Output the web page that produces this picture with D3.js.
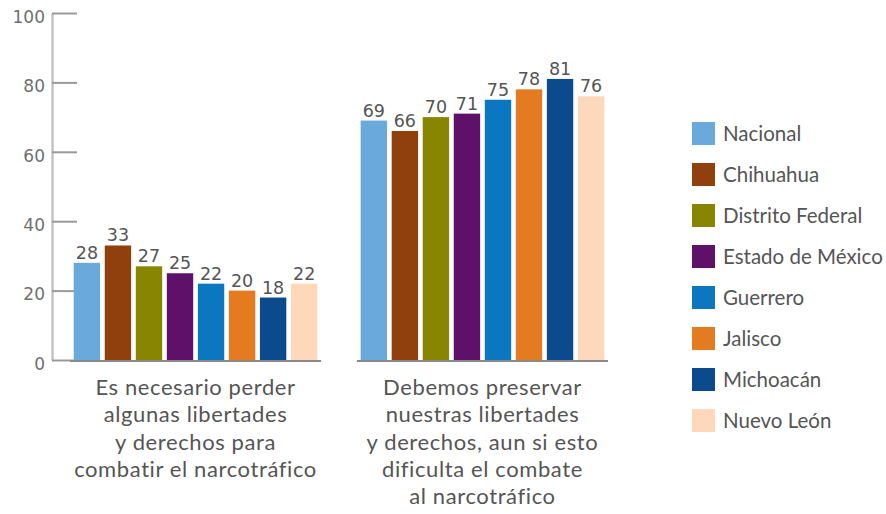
<!DOCTYPE html>
<html>
<head>
<meta charset="utf-8">
<script src="https://cdn.jsdelivr.net/npm/d3@7"></script>
<style>
  html, body { margin: 0; padding: 0; background: #fff; }
  svg { display: block; }
</style>
</head>
<body>
<svg id="chart" width="886" height="514"></svg>
<script>
const groups = ["g1", "g2"];
const groupLabels = [
  ["Es necesario perder", "algunas libertades", "y derechos para", "combatir el narcotráfico"],
  ["Debemos preservar", "nuestras libertades", "y derechos, aun si esto", "dificulta el combate", "al narcotráfico"]
];
const seriesNames = ["Nacional", "Chihuahua", "Distrito Federal", "Estado de México", "Guerrero", "Jalisco", "Michoacán", "Nuevo León"];
const seriesColors = ["#69a9dc", "#8f400c", "#888600", "#5f1068", "#0b77c0", "#e57b21", "#0c4a8e", "#fdd8bb"];
const valuesG1 = [28, 33, 27, 25, 22, 20, 18, 22];
const valuesG2 = [69, 66, 70, 71, 75, 78, 81, 76];
const yTicks = [0, 20, 40, 60, 80, 100];

const svg = d3.select("#chart");
const numFont = "'DejaVu Sans', sans-serif";
const txtFont = "Lato, sans-serif";

const y = d3.scaleLinear().domain([0, 100]).range([360, 13]);
const x0 = d3.scaleBand().domain(groups).range([70, 608]).paddingInner(0.125);
const x1 = d3.scaleBand().domain(seriesNames).range([0, x0.bandwidth()]).paddingInner(0.15).paddingOuter(0.12);

// Y axis
const yAxis = d3.axisLeft(y).tickValues(yTicks).tickSize(-25).tickSizeOuter(0).tickPadding(7);
const ga = svg.append("g").attr("transform", "translate(52,0)").call(yAxis);
ga.select(".domain").attr("stroke", "#c4c4c4").attr("stroke-width", 2.5);
ga.selectAll(".tick line").attr("stroke", "#9a9a9a").attr("stroke-width", 2);
ga.selectAll(".tick text").attr("fill", "#707070").attr("font-family", numFont).attr("font-size", 17)
  .attr("dy", "0.55em");

const allValues = [valuesG1, valuesG2];
groups.forEach((g, gi) => {
  const gg = svg.append("g").attr("transform", `translate(${x0(g)},0)`);
  gg.selectAll("rect").data(allValues[gi]).join("rect")
    .attr("x", (d, i) => x1(seriesNames[i]))
    .attr("width", x1.bandwidth())
    .attr("y", d => y(d))
    .attr("height", d => y(0) - y(d))
    .attr("fill", (d, i) => seriesColors[i]);
  gg.selectAll("text.val").data(allValues[gi]).join("text")
    .attr("class", "val")
    .attr("x", (d, i) => x1(seriesNames[i]) + x1.bandwidth() / 2)
    .attr("y", d => y(d) - 4)
    .attr("text-anchor", "middle")
    .attr("font-family", numFont)
    .attr("font-size", 17.5)
    .attr("fill", "#555")
    .text(d => d);
  gg.append("line")
    .attr("x1", 0).attr("x2", x0.bandwidth())
    .attr("y1", y(0) + 1).attr("y2", y(0) + 1)
    .attr("stroke", "#8a8a8a").attr("stroke-width", 2);
  const t = gg.append("text")
    .attr("text-anchor", "middle")
    .attr("font-family", txtFont)
    .attr("font-size", 22)
    .attr("letter-spacing", "0.6px")
    .attr("fill", "#555");
  groupLabels[gi].forEach((line, li) => {
    t.append("tspan").attr("x", x0.bandwidth() / 2).attr("y", 395 + li * 27.3).text(line);
  });
});

// Legend
const lg = svg.append("g").attr("transform", "translate(692,122)");
seriesNames.forEach((s, i) => {
  const row = lg.append("g").attr("transform", `translate(0,${i * 41})`);
  row.append("rect").attr("width", 23).attr("height", 23).attr("fill", seriesColors[i]);
  row.append("text").attr("x", 31).attr("y", 11.5).attr("dy", "0.35em")
    .attr("font-family", txtFont).attr("font-size", 20.5).attr("fill", "#555").text(s);
});
</script>
</body>
</html>
